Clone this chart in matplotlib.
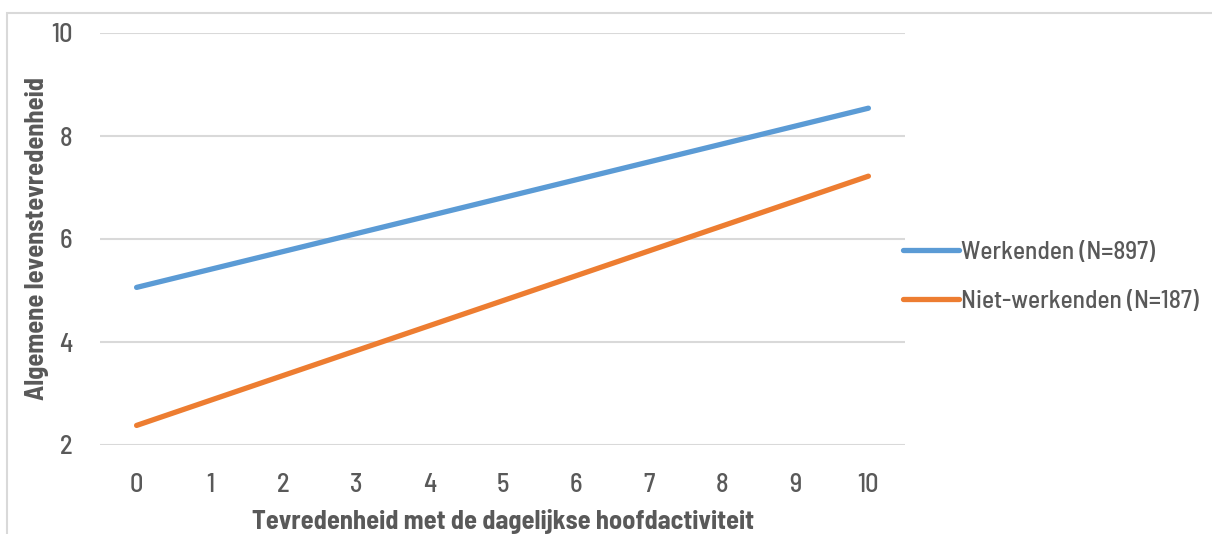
import matplotlib
matplotlib.use("Agg")
import matplotlib.pyplot as plt
from matplotlib.patches import Rectangle

# Data
x_vals = [0, 10]
werkenden = [5.06, 8.54]
niet_werkenden = [2.38, 7.22]
series_labels = ["Werkenden (N=897)", "Niet-werkenden (N=187)"]
x_ticks = list(range(0, 11))
y_ticks = [2, 4, 6, 8, 10]
x_label = "Tevredenheid met de dagelijkse hoofdactiviteit"
y_label = "Algemene levenstevredenheid"

plt.rcParams["font.family"] = ["Barlow Semi Condensed", "DejaVu Sans"]
plt.rcParams["font.weight"] = "medium"

W, H = 1212, 534
fig = plt.figure(figsize=(W / 100, H / 100), dpi=100)
ax = fig.add_axes([100 / W, 1 - 445 / H, (905 - 100) / W, (445 - 33) / H])

txt = "#595959"
ax.plot(x_vals, werkenden, color="#5B9BD5", lw=3.8, solid_capstyle="round", label=series_labels[0])
ax.plot(x_vals, niet_werkenden, color="#ED7D31", lw=3.8, solid_capstyle="round", label=series_labels[1])

ax.set_xlim(-0.5, 10.5)
ax.set_ylim(2, 10)
ax.set_xticks(x_ticks)
ax.set_yticks(y_ticks)
ax.tick_params(length=0, labelsize=19, colors=txt)
ax.tick_params(axis="x", pad=20)
ax.tick_params(axis="y", pad=20)
ax.grid(axis="y", color="#d9d9d9", lw=1.5)
ax.set_axisbelow(True)
for s in ax.spines.values():
    s.set_visible(False)

ax.set_xlabel(x_label, fontsize=19, fontweight="bold", color=txt, labelpad=9)
ax.set_ylabel(y_label, fontsize=19, fontweight="bold", color=txt, labelpad=1)

leg = fig.legend(loc="center left", bbox_to_anchor=(880 / W, 1 - 277 / H), frameon=False,
                 fontsize=18.3, handlelength=2.2, handletextpad=0.1, labelspacing=1.0,
                 labelcolor=txt)

fig.patches.append(Rectangle((7 / W, -0.1), 1.2, 1 - 13 / H + 0.1, transform=fig.transFigure,
                             fill=False, edgecolor="#d9d9d9", lw=1.5))

fig.savefig("out.png", dpi=100)
